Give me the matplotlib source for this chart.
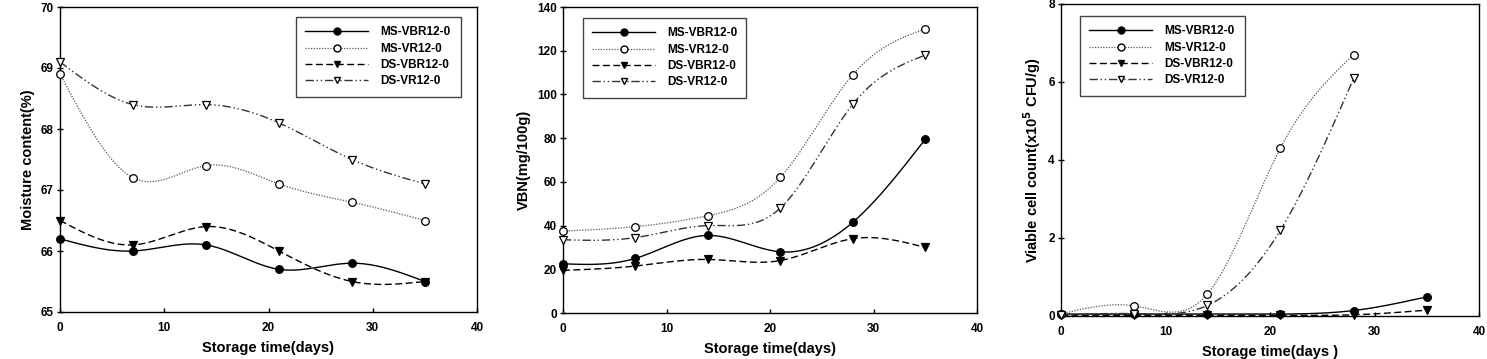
import numpy as np
import matplotlib
matplotlib.use("Agg")
import matplotlib.pyplot as plt
from matplotlib.lines import Line2D

plt.rcParams['font.family'] = ['Liberation Sans', 'DejaVu Sans']
plt.rcParams['font.weight'] = 'bold'

days = [0, 7, 14, 21, 28, 35]
series_names = ["MS-VBR12-0", "MS-VR12-0", "DS-VBR12-0", "DS-VR12-0"]

moist_ms_vbr = [66.2, 66.0, 66.1, 65.7, 65.8, 65.5]
moist_ms_vr = [68.9, 67.2, 67.4, 67.1, 66.8, 66.5]
moist_ds_vbr = [66.5, 66.1, 66.4, 66.0, 65.5, 65.5]
moist_ds_vr = [69.1, 68.4, 68.4, 68.1, 67.5, 67.1]

vbn_ms_vbr = [22.5, 25.0, 35.5, 28.0, 41.5, 79.5]
vbn_ms_vr = [37.5, 39.5, 44.5, 62.0, 109.0, 130.0]
vbn_ds_vbr = [19.5, 21.5, 24.5, 24.0, 34.0, 30.0]
vbn_ds_vr = [33.5, 34.5, 40.0, 48.0, 95.5, 118.0]

days_cell_a = [0, 7, 14, 21, 28, 35]
days_cell_b = [0, 7, 14, 21, 28]
cell_ms_vbr = [0.05, 0.05, 0.05, 0.05, 0.14, 0.49]
cell_ms_vr = [0.05, 0.26, 0.56, 4.31, 6.70]
cell_ds_vbr = [0.02, 0.02, 0.02, 0.02, 0.03, 0.15]
cell_ds_vr = [0.02, 0.06, 0.27, 2.20, 6.09]


def natural_spline(x, y, n=200):
    x = np.asarray(x, float)
    y = np.asarray(y, float)
    k = len(x)
    h = np.diff(x)
    A = np.zeros((k, k))
    b = np.zeros(k)
    A[0, 0] = 1
    A[-1, -1] = 1
    for i in range(1, k - 1):
        A[i, i - 1] = h[i - 1]
        A[i, i] = 2 * (h[i - 1] + h[i])
        A[i, i + 1] = h[i]
        b[i] = 3 * ((y[i + 1] - y[i]) / h[i] - (y[i] - y[i - 1]) / h[i - 1])
    c = np.linalg.solve(A, b)
    xs = np.linspace(x[0], x[-1], n)
    ys = np.empty_like(xs)
    for j, xv in enumerate(xs):
        i = min(np.searchsorted(x, xv, side='right') - 1, k - 2)
        bi = (y[i + 1] - y[i]) / h[i] - h[i] * (2 * c[i] + c[i + 1]) / 3
        di = (c[i + 1] - c[i]) / (3 * h[i])
        dx = xv - x[i]
        ys[j] = y[i] + bi * dx + c[i] * dx ** 2 + di * dx ** 3
    return xs, ys


styles = [
    dict(ls='-', marker='o', mfc='black', color='black', lw=1.0),
    dict(ls=(0, (1, 1.2)), marker='o', mfc='white', color='#555555', lw=0.9),
    dict(ls=(0, (5, 2.5)), marker='v', mfc='black', color='black', lw=1.0),
    dict(ls=(0, (6, 2, 1, 2, 1, 2)), marker='v', mfc='white', color='#333333', lw=1.0),
]

fig = plt.figure(figsize=(14.87, 3.59), dpi=100)
W, H = 1487, 359


def add_ax(l, r, t, b):
    return fig.add_axes([l / W, 1 - b / H, (r - l) / W, (b - t) / H])


panels = [
    dict(box=(60, 477, 7, 312), xs=[days] * 4,
         ys=[moist_ms_vbr, moist_ms_vr, moist_ds_vbr, moist_ds_vr],
         ylim=(65, 70), yticks=[65, 66, 67, 68, 69, 70],
         ylabel="Moisture content(%)", xlabel="Storage time(days)",
         leg=(296, 461, 17, 95)),
    dict(box=(563, 977, 7, 313), xs=[days] * 4,
         ys=[vbn_ms_vbr, vbn_ms_vr, vbn_ds_vbr, vbn_ds_vr],
         ylim=(0, 140), yticks=[0, 20, 40, 60, 80, 100, 120, 140],
         ylabel="VBN(mg/100g)", xlabel="Storage time(days)",
         leg=(583, 746, 18, 96)),
    dict(box=(1061, 1479, 4, 316), xs=[days_cell_a, days_cell_b, days_cell_a, days_cell_b],
         ys=[cell_ms_vbr, cell_ms_vr, cell_ds_vbr, cell_ds_vr],
         ylim=(0, 8), yticks=[0, 2, 4, 6, 8],
         ylabel="Viable cell count(x10$^{\\mathbf{5}}$ CFU/g)", xlabel="Storage time(days )",
         leg=(1080, 1245, 16, 96)),
]

for p in panels:
    l, r, t, b = p['box']
    ax = add_ax(l, r, t, b)
    for xv, yv, st in zip(p['xs'], p['ys'], styles):
        sx, sy = natural_spline(xv, yv)
        ax.plot(sx, sy, ls=st['ls'], color=st['color'], lw=st['lw'], zorder=2)
        ax.plot(xv, yv, ls='none', marker=st['marker'], ms=5.5, mfc=st['mfc'],
                mec='black', mew=0.9, zorder=3, clip_on=False)
    ax.set_xlim(0, 40)
    ax.set_ylim(*p['ylim'])
    ax.set_xticks([0, 10, 20, 30, 40])
    ax.set_yticks(p['yticks'])
    ax.tick_params(axis='x', direction='in', length=3, width=1, labelsize=8.5, pad=7)
    ax.tick_params(axis='y', direction='inout', length=5, width=1, labelsize=8.5, pad=2)
    for s in ax.spines.values():
        s.set_linewidth(1.0)
    ax.set_xlabel(p['xlabel'], fontsize=10.5, fontweight='bold', labelpad=5)
    ax.set_ylabel(p['ylabel'], fontsize=10.5, fontweight='bold', labelpad=4)
    handles = [Line2D([0], [0], ls=st['ls'], color=st['color'], lw=st['lw'],
                      marker=st['marker'], ms=5, mfc=st['mfc'], mec='black')
               for st in styles]
    ll, lr, lt, lb = p['leg']
    fx = lambda v: (v - l) / (r - l)
    fy = lambda v: 1 - (v - t) / (b - t)
    ax.legend(handles, series_names, loc='upper left',
              bbox_to_anchor=(fx(ll), fy(lb), fx(lr) - fx(ll), fy(lt) - fy(lb)),
              mode='expand', handlelength=5.3, handletextpad=1.0,
              labelspacing=0.36, borderpad=0.8, borderaxespad=0, fancybox=False,
              edgecolor='#444444', framealpha=1,
              prop={'weight': 'bold', 'size': 8.5})

fig.savefig("out.png", dpi=100)
